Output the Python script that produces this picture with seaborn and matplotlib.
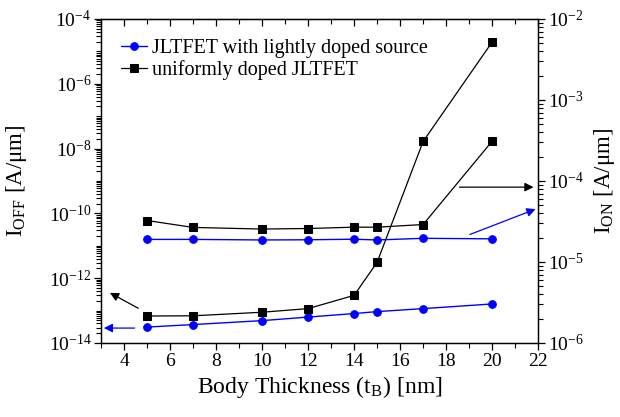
import matplotlib
matplotlib.use('Agg')
import numpy as np
import matplotlib.pyplot as plt
import matplotlib.ticker as mticker
import seaborn as sns
import pandas as pd

# Body thickness values [nm]
tb = [5, 7, 10, 12, 14, 15, 17, 20]

# I_OFF [A/um] (left axis)
ioff_light = [3.1e-14, 3.7e-14, 4.9e-14, 6.3e-14, 8.1e-14, 9.3e-14, 1.15e-13, 1.6e-13]
ioff_uniform = [6.8e-14, 6.9e-14, 8.9e-14, 1.15e-13, 2.95e-13, 3.1e-12, 1.66e-8, 1.94e-5]

# I_ON [A/um] (right axis)
ion_light = [1.9e-5, 1.9e-5, 1.87e-5, 1.88e-5, 1.91e-5, 1.87e-5, 1.96e-5, 1.93e-5]
ion_uniform = [3.25e-5, 2.67e-5, 2.55e-5, 2.59e-5, 2.69e-5, 2.69e-5, 2.9e-5, 3.1e-4]

labels = ['JLTFET with lightly doped source', 'uniformly doped JLTFET']

sns.set_style('ticks')
plt.rcParams['font.family'] = ['Liberation Serif', 'DejaVu Serif']
plt.rcParams['mathtext.fontset'] = 'stix'
plt.rcParams['text.color'] = 'black'
plt.rcParams['axes.labelcolor'] = 'black'
plt.rcParams['xtick.color'] = 'black'
plt.rcParams['ytick.color'] = 'black'
plt.rcParams['axes.edgecolor'] = 'black'

df = pd.DataFrame({'tb': tb, 'ioff_light': ioff_light, 'ioff_uniform': ioff_uniform,
                   'ion_light': ion_light, 'ion_uniform': ion_uniform})

fig = plt.figure(figsize=(6.2, 4.17), dpi=100)
ax = fig.add_axes([0.163, 0.1775, 0.705, 0.777])
ax2 = ax.twinx()

blue = '#0000ff'
ms_c, ms_s = 5.5, 5.2
sns.lineplot(data=df, x='tb', y='ioff_light', ax=ax, color=blue, marker='o', markersize=ms_c,
             markeredgecolor=blue, linewidth=1, label=labels[0])
sns.lineplot(data=df, x='tb', y='ioff_uniform', ax=ax, color='black', marker='s', markersize=ms_s,
             markeredgecolor='black', linewidth=0.9, label=labels[1])
sns.lineplot(data=df, x='tb', y='ion_light', ax=ax2, color=blue, marker='o', markersize=ms_c,
             markeredgecolor=blue, linewidth=1, legend=False)
sns.lineplot(data=df, x='tb', y='ion_uniform', ax=ax2, color='black', marker='s', markersize=ms_s,
             markeredgecolor='black', linewidth=0.9, legend=False)

ax.set_yscale('log')
ax2.set_yscale('log')
ax.set_xlim(3, 22)
ax.set_ylim(1e-14, 1e-4)
ax2.set_ylim(1e-6, 1e-2)

ax.set_xticks([4, 6, 8, 10, 12, 14, 16, 18, 20, 22])
ax.set_xticks(np.arange(3, 23, 1), minor=True)

ax.set_yticks([10.0 ** e for e in range(-14, -3, 2)])
ax.set_yticks([s * 10.0 ** e for e in range(-14, -4) for s in range(1, 10)
               if not (s == 1 and e % 2 == 0)], minor=True)
ax.yaxis.set_minor_formatter(mticker.NullFormatter())
ax2.set_yticks([1e-6, 1e-5, 1e-4, 1e-3, 1e-2])
ax2.set_yticks([s * 10.0 ** e for e in range(-6, -2) for s in range(2, 10)], minor=True)
ax2.yaxis.set_minor_formatter(mticker.NullFormatter())

ax.tick_params(axis='both', which='major', labelsize=14, direction='out', length=5, width=0.9, pad=2)
ax.tick_params(axis='both', which='minor', direction='out', length=3.5, width=0.8,
               left=True, bottom=True)
ax2.tick_params(axis='y', which='major', labelsize=14, direction='out', length=5, width=0.9, pad=2)
ax2.tick_params(axis='y', which='minor', direction='out', length=3.5, width=0.8, right=True)

# top ticks point inward, bottom ticks outward
secx = ax.secondary_xaxis('top')
secx.set_xticks([4, 6, 8, 10, 12, 14, 16, 18, 20, 22])
secx.set_xticks(np.arange(3, 23, 1), minor=True)
secx.tick_params(which='major', direction='in', length=5, width=0.9, labeltop=False)
secx.tick_params(which='minor', direction='in', length=3.5, width=0.8)
ax.tick_params(axis='x', which='both', top=False)

ax.set_xlabel(r'Body Thickness (t$_{\mathregular{B}}$) [nm]', fontsize=17, labelpad=3)
ax.set_ylabel(r'I$_{\mathregular{OFF}}$ [A/$\mathregular{\mu}$m]', fontsize=16.5)
ax2.set_ylabel(r'I$_{\mathregular{ON}}$ [A/$\mathregular{\mu}$m]', fontsize=16.5)
ax.yaxis.label.set_va('center')
ax2.yaxis.label.set_va('center')
ax.yaxis.set_label_coords(-0.193, 0.5)
ax2.yaxis.set_label_coords(1.151, 0.5)
ax2.set_xlabel('')

for spine in list(ax.spines.values()) + list(ax2.spines.values()):
    spine.set_linewidth(0.9)
    spine.set_color('black')

# arrows pointing to the axis of each curve
arrow_k = dict(arrowstyle='-|>', color='black', lw=0.9, mutation_scale=13)
arrow_b = dict(arrowstyle='-|>', color=blue, lw=0.9, mutation_scale=13)
ax.annotate('', xy=(3.28, 10 ** -12.41), xytext=(4.72, 10 ** -12.97), arrowprops=arrow_k)
ax.annotate('', xy=(3.0, 10 ** -13.54), xytext=(4.58, 10 ** -13.54), arrowprops=arrow_b)
ax2.annotate('', xy=(21.92, 10 ** -4.076), xytext=(18.46, 10 ** -4.076), arrowprops=arrow_k)
ax2.annotate('', xy=(22.0, 10 ** -4.335), xytext=(18.92, 10 ** -4.673), arrowprops=arrow_b)

ax.legend(loc='upper left', frameon=False, fontsize=14.5, handlelength=1.3,
          handletextpad=0.25, labelspacing=0.1, borderaxespad=0.5, borderpad=0.5)

fig.savefig('out.png', dpi=100)
